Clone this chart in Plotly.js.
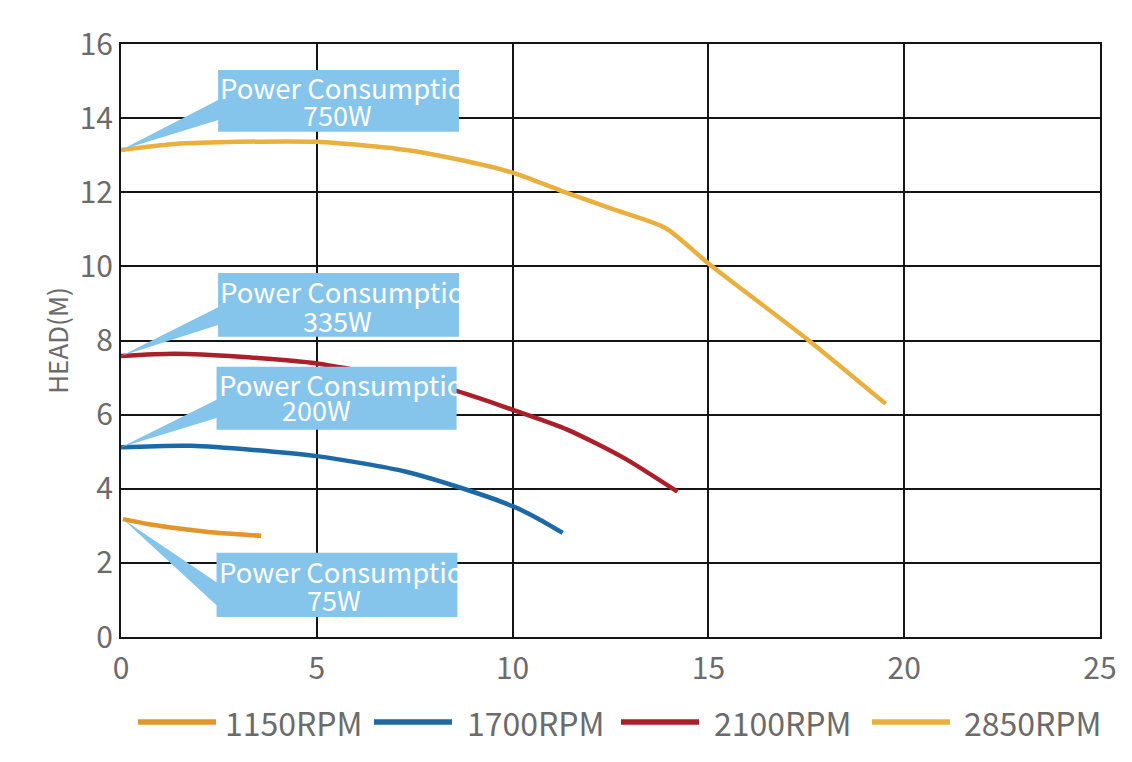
<!DOCTYPE html>
<html>
<head>
<meta charset="utf-8">
<script src="https://cdn.plot.ly/plotly-3.0.1.min.js"></script>
<style>
  html, body { margin: 0; padding: 0; background: #ffffff; }
  #chart { width: 1132px; height: 762px; }
</style>
</head>
<body>
<div id="chart"></div>
<script>
// Pump curves: flow (x) against head in metres, one curve per motor speed.
const speedNames = ['1150RPM', '1700RPM', '2100RPM', '2850RPM'];
const powerLabels = ['75W', '200W', '335W', '750W'];

const flow1150 = [0.05, 0.72, 1.37, 2.46, 3.58];
const head1150 = [3.18, 3.04, 2.94, 2.81, 2.73];

const flow1700 = [0, 1.79, 5, 7.28, 8.75, 10, 10.64, 11.28];
const head1700 = [5.12, 5.16, 4.88, 4.46, 4.0, 3.53, 3.20, 2.81];

const flow2100 = [0, 1.37, 3.04, 5, 8.49, 10, 11.41, 12.86, 14.21];
const head2100 = [7.58, 7.64, 7.56, 7.38, 6.66, 6.13, 5.59, 4.82, 3.92];

const flow2850 = [0, 1.37, 3.04, 5, 7.28, 8.58, 10, 11.24, 12.54, 13.91, 15, 17.53, 19.53];
const head2850 = [13.14, 13.30, 13.36, 13.36, 13.14, 12.89, 12.53, 12.04, 11.55, 11.03, 10.08, 8.03, 6.29];

const xTickVals = [0, 5, 10, 15, 20, 25];
const yTickVals = [0, 2, 4, 6, 8, 10, 12, 14, 16];

const flows = [flow1150, flow1700, flow2100, flow2850];
const heads = [head1150, head1700, head2100, head2850];
const colors = ['#E3952C', '#1D69A6', '#A9202B', '#E9B03F'];

const textGrey = '#6b6b6b';
const calloutBlue = '#85C4EB';
const FONT = '"Noto Sans CJK SC", "Noto Sans", sans-serif';

// Plot-area geometry (pixels) used to place the hand-drawn legend.
const W = 1132, H = 762;
const M = { l: 121, r: 32, t: 44, b: 125 };
const plotW = W - M.l - M.r, plotH = H - M.t - M.b;
const pxX = px => (px - M.l) / plotW;
const pxY = py => (H - M.b - py) / plotH;

const traces = speedNames.map((name, i) => ({
  type: 'scatter',
  mode: 'lines',
  name: name,
  x: flows[i],
  y: heads[i],
  line: { color: colors[i], width: 4.5, shape: 'spline', smoothing: 0.7 },
  hoverinfo: 'x+y+name',
  showlegend: false
}));

// Callout boxes (data coordinates) with a pointer to each curve's shut-off head.
const callouts = [
  { series: 3, box: [2.48, 8.63, 13.63, 15.30], base: [14.49, 13.95], l1y: 14.84, l2: [5.52, 14.11] },
  { series: 2, box: [2.48, 8.63, 8.10, 9.82],   base: [8.90, 8.42],   l1y: 9.34,  l2: [5.52, 8.55] },
  { series: 1, box: [2.44, 8.57, 5.59, 7.29],   base: [6.40, 5.91],   l1y: 6.83,  l2: [4.98, 6.13] },
  { series: 0, box: [2.44, 8.59, 0.54, 2.27],   base: [1.48, 0.86],   l1y: 1.78,  l2: [5.44, 1.00] }
];

const xScale = plotW / 25;
const shapes = [];
const annotations = [];

callouts.forEach(c => {
  const [x0, x1, y0, y1] = c.box;
  const ax = flows[c.series][0], ay = heads[c.series][0];
  shapes.push({
    type: 'path', xref: 'x', yref: 'y', layer: 'above',
    path: `M${x0},${y0} L${x1},${y0} L${x1},${y1} L${x0},${y1} L${x0},${c.base[0]} L${ax},${ay} L${x0},${c.base[1]} Z`,
    fillcolor: calloutBlue, line: { width: 0 }
  });
  // First line runs past the box edge and is cut off by the annotation width.
  annotations.push({
    xref: 'x', yref: 'y', x: x0, y: c.l1y, xanchor: 'left', yanchor: 'middle',
    text: 'Power Consumption', showarrow: false, align: 'left', valign: 'middle',
    width: Math.round((x1 - x0) * xScale) - 2, borderpad: 1,
    font: { family: FONT, size: 27.5, color: '#ffffff' }
  });
  annotations.push({
    xref: 'x', yref: 'y', x: c.l2[0], y: c.l2[1], xanchor: 'center', yanchor: 'middle',
    text: powerLabels[c.series], showarrow: false, valign: 'middle',
    font: { family: FONT, size: 27, color: '#ffffff' }
  });
});

// Legend: long rounded keys under the axis, one per speed.
const legendKeys = [[138, 216], [374, 452], [621, 699], [872, 950]];
const legendTextX = [223, 465, 712, 962];
const legendY = 722;
speedNames.forEach((name, i) => {
  shapes.push({
    type: 'line', xref: 'paper', yref: 'paper', layer: 'above',
    x0: pxX(legendKeys[i][0]), x1: pxX(legendKeys[i][1]),
    y0: pxY(legendY), y1: pxY(legendY),
    line: { color: colors[i], width: 5.5 }
  });
  annotations.push({
    xref: 'paper', yref: 'paper', x: pxX(legendTextX[i]), y: pxY(legendY),
    xanchor: 'left', yanchor: 'middle', showarrow: false, text: name,
    font: { family: FONT, size: 32, color: textGrey }
  });
});

const layout = {
  width: W, height: H,
  margin: { l: M.l, r: M.r, t: M.t, b: M.b, pad: 0 },
  paper_bgcolor: '#ffffff', plot_bgcolor: '#ffffff',
  font: { family: FONT, color: textGrey },
  showlegend: false,
  xaxis: {
    range: [0, 25], tickvals: xTickVals, ticktext: xTickVals.map(String),
    showgrid: true, gridcolor: '#141414', gridwidth: 2,
    showline: true, linecolor: '#141414', linewidth: 2, mirror: true,
    zeroline: false, ticks: '', ticklabelstandoff: 4,
    tickfont: { family: FONT, size: 30, color: textGrey },
    fixedrange: true
  },
  yaxis: {
    range: [0, 16], tickvals: yTickVals, ticktext: yTickVals.map(String),
    showgrid: true, gridcolor: '#141414', gridwidth: 2,
    showline: true, linecolor: '#141414', linewidth: 2, mirror: true,
    zeroline: false, ticks: '', ticklabelstandoff: 0,
    tickfont: { family: FONT, size: 30, color: textGrey },
    title: { text: 'HEAD(M)', standoff: 4, font: { family: FONT, size: 26, color: textGrey } },
    fixedrange: true
  },
  shapes: shapes,
  annotations: annotations
};

Plotly.newPlot('chart', traces, layout, { displayModeBar: false });
</script>
</body>
</html>
